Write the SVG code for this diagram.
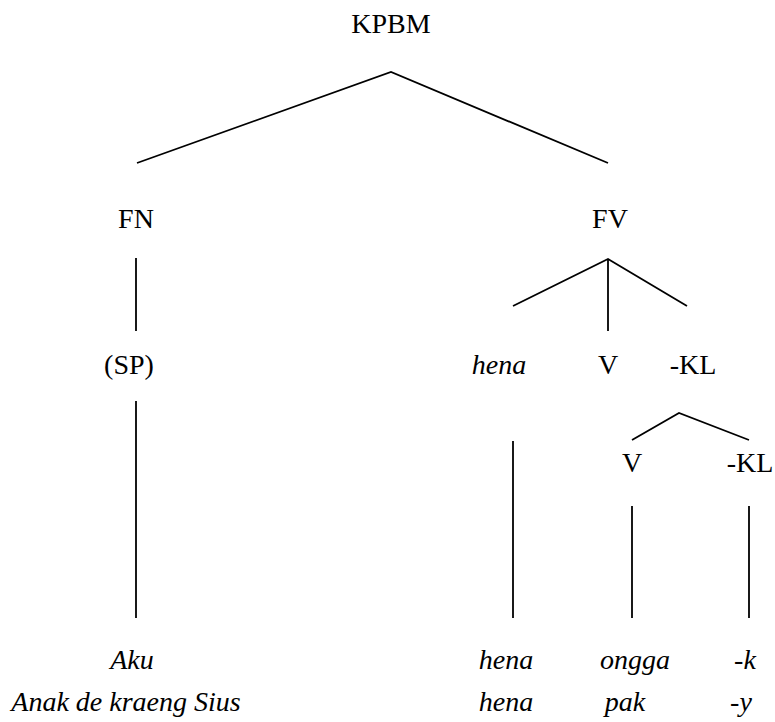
<svg xmlns="http://www.w3.org/2000/svg" width="775" height="722" viewBox="0 0 775 722">
<style>
text{font-family:"Liberation Serif","Times New Roman",serif;font-size:28px;fill:#000;text-anchor:middle}
.i{font-style:italic}
line,polyline{stroke:#000;stroke-width:1.8;fill:none}
</style>
<rect width="775" height="722" fill="#fff"/>
<g id="connectors">
<polyline points="137,163 391,72 608,163"/>
<line x1="136" y1="258" x2="136" y2="331"/>
<line x1="136" y1="401" x2="136" y2="618"/>
<polyline points="513,306 608,259 687,306"/>
<line x1="608" y1="259" x2="608" y2="331"/>
<line x1="513" y1="441" x2="513" y2="618"/>
<polyline points="632,440 679,413 749,440"/>
<line x1="632" y1="506" x2="632" y2="618"/>
<line x1="749" y1="506" x2="749" y2="618"/>
</g>
<g id="n-kpbm"><text x="391" y="33">KPBM</text></g>
<g id="n-fn"><text x="136" y="228">FN</text></g>
<g id="n-fv"><text x="610" y="228">FV</text></g>
<g id="n-sp"><text x="129" y="374">(SP)</text></g>
<g id="n-hena"><text class="i" x="499" y="374">hena</text></g>
<g id="n-v"><text x="608" y="374">V</text></g>
<g id="n-kl"><text x="693" y="374">-KL</text></g>
<g id="n-v2"><text x="632" y="472">V</text></g>
<g id="n-kl2"><text x="750" y="472">-KL</text></g>
<g id="n-aku"><text class="i" x="132" y="669">Aku</text></g>
<g id="n-anak"><text class="i" x="126" y="711">Anak de kraeng Sius</text></g>
<g id="n-hena1"><text class="i" x="506" y="669">hena</text></g>
<g id="n-hena2"><text class="i" x="506" y="711">hena</text></g>
<g id="n-ongga"><text class="i" x="635" y="669">ongga</text></g>
<g id="n-pak"><text class="i" x="625" y="711">pak</text></g>
<g id="n-k"><text class="i" x="745" y="669">-k</text></g>
<g id="n-y"><text class="i" x="741" y="711">-y</text></g>
</svg>
